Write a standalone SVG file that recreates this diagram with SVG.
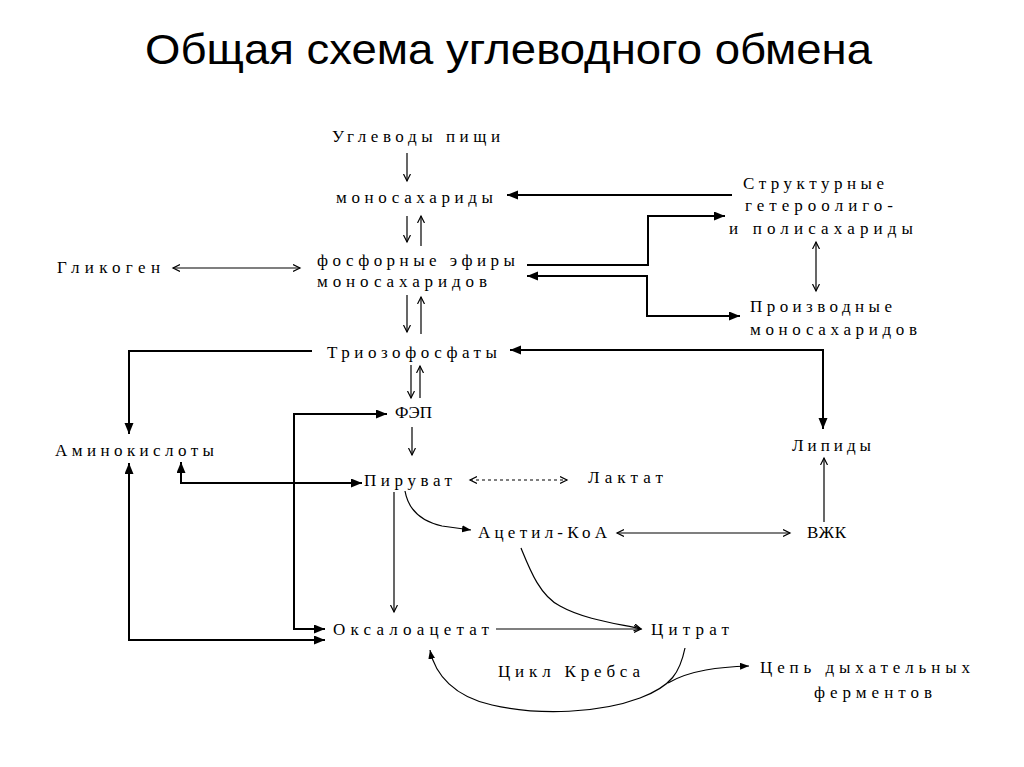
<svg xmlns="http://www.w3.org/2000/svg" width="1024" height="767" viewBox="0 0 1024 767">
<style>
.t{font-family:"Liberation Serif","DejaVu Serif",serif;font-size:17px;fill:#000}
.title{font-family:"Liberation Sans",Arial,sans-serif;font-size:42px;fill:#000}
.thin{fill:none;stroke:#000;stroke-width:1.2}
.thick{fill:none;stroke:#000;stroke-width:2}
.dash{stroke-dasharray:3 3}
</style>
<defs>
<marker id="fa" markerUnits="userSpaceOnUse" markerWidth="12" markerHeight="10" refX="11" refY="4.5" orient="auto-start-reverse"><path d="M0,0 L11,4.5 L0,9 z" fill="#000"/></marker>
<marker id="fs" markerUnits="userSpaceOnUse" markerWidth="10" markerHeight="8" refX="9" refY="3.5" orient="auto-start-reverse"><path d="M0,0 L9,3.5 L0,7 z" fill="#000"/></marker>
<marker id="oa" markerUnits="userSpaceOnUse" markerWidth="9" markerHeight="9" refX="7" refY="4" orient="auto-start-reverse"><path d="M0,0.5 L7,4 L0,7.5" fill="none" stroke="#000" stroke-width="1.2"/></marker>
</defs>
<rect width="1024" height="767" fill="#fff"/>
<text class="title" x="145" y="64" textLength="727" lengthAdjust="spacingAndGlyphs">Общая схема углеводного обмена</text>
<g id="connectors">
<path class="thin" d="M407,153 V181" marker-end="url(#oa)"/>
<path class="thin" d="M407,216 V242" marker-end="url(#oa)"/>
<path class="thin" d="M421,246 V216" marker-end="url(#oa)"/>
<path class="thin" d="M407,295 V332" marker-end="url(#oa)"/>
<path class="thin" d="M421,334 V297" marker-end="url(#oa)"/>
<path class="thin" d="M411,365 V398" marker-end="url(#oa)"/>
<path class="thin" d="M420,398 V366" marker-end="url(#oa)"/>
<path class="thin" d="M412,427 V455" marker-end="url(#oa)"/>
<path class="thin" d="M173,268 H300" marker-start="url(#oa)" marker-end="url(#oa)"/>
<path class="thin" d="M816,242 V291" marker-start="url(#oa)" marker-end="url(#oa)"/>
<path class="thin" d="M824,522 V458" marker-end="url(#oa)"/>
<path class="thin" d="M617,533 H790" marker-start="url(#oa)" marker-end="url(#oa)"/>
<path class="thin dash" d="M470,480 H567" marker-start="url(#oa)" marker-end="url(#oa)"/>
<path class="thin" d="M394,492 V612" marker-end="url(#oa)"/>
<path class="thin" d="M496,629 H641" marker-end="url(#oa)"/>
<path class="thin" d="M521,548 C530,570 540,596 560,606 C585,620 620,624 641,629" marker-end="url(#oa)"/>
<path class="thin" d="M685,648 C680,672 672,686 640,698 C600,713 540,716 492,705 C455,697 435,675 430,650" marker-end="url(#fs)"/>
<path class="thin" d="M668,683 C690,670 720,667 749,666" marker-end="url(#fs)"/>
<path class="thin" d="M405,491 C408,508 420,521 442,526 L471,530" marker-end="url(#fs)"/>
<path class="thick" d="M732,195 H507" marker-end="url(#fa)"/>
<path class="thick" d="M527,265 H648 V216 H725" marker-end="url(#fa)"/>
<path class="thick" d="M527,276 H647 V316 H740" marker-start="url(#fa)" marker-end="url(#fa)"/>
<path class="thick" d="M510,350 H823 V429" marker-start="url(#fa)" marker-end="url(#fa)"/>
<path class="thick" d="M312,351 H129 V434" marker-end="url(#fa)"/>
<path class="thick" d="M181,462 V483 H362" marker-start="url(#fa)" marker-end="url(#fa)"/>
<path class="thick" d="M387,414 H294 V629 H325" marker-start="url(#fa)" marker-end="url(#fa)"/>
<path class="thick" d="M129,463 V640 H325" marker-start="url(#fa)" marker-end="url(#fa)"/>
</g>
<g id="n-uglevody"><text class="t" x="332" y="142" textLength="168" lengthAdjust="spacing">Углеводы пищи</text></g>
<g id="n-monosaharidy"><text class="t" x="336" y="203" textLength="157" lengthAdjust="spacing">моносахариды</text></g>
<g id="n-fosfornye"><text class="t" x="317" y="266" textLength="198" lengthAdjust="spacing">фосфорные эфиры</text><text class="t" x="317" y="287" textLength="170" lengthAdjust="spacing">моносахаридов</text></g>
<g id="n-glikogen"><text class="t" x="57" y="273" textLength="103" lengthAdjust="spacing">Гликоген</text></g>
<g id="n-strukturnye"><text class="t" x="743" y="189" textLength="141" lengthAdjust="spacing">Структурные</text><text class="t" x="745" y="211" textLength="148" lengthAdjust="spacing">гетероолиго-</text><text class="t" x="729" y="234" textLength="184" lengthAdjust="spacing">и полисахариды</text></g>
<g id="n-proizvodnye"><text class="t" x="750" y="312" textLength="142" lengthAdjust="spacing">Производные</text><text class="t" x="750" y="335" textLength="167" lengthAdjust="spacing">моносахаридов</text></g>
<g id="n-triozo"><text class="t" x="327" y="358" textLength="170" lengthAdjust="spacing">Триозофосфаты</text></g>
<g id="n-fep"><text class="t" x="395" y="418" textLength="37" lengthAdjust="spacing">ФЭП</text></g>
<g id="n-amino"><text class="t" x="55" y="456" textLength="159" lengthAdjust="spacing">Аминокислоты</text></g>
<g id="n-lipidy"><text class="t" x="792" y="451" textLength="79" lengthAdjust="spacing">Липиды</text></g>
<g id="n-piruvat"><text class="t" x="364" y="486" textLength="88" lengthAdjust="spacing">Пируват</text></g>
<g id="n-laktat"><text class="t" x="588" y="483" textLength="75" lengthAdjust="spacing">Лактат</text></g>
<g id="n-acetil"><text class="t" x="478" y="538" textLength="129" lengthAdjust="spacing">Ацетил-КоА</text></g>
<g id="n-vzhk"><text class="t" x="807" y="538" textLength="39" lengthAdjust="spacing">ВЖК</text></g>
<g id="n-oksalo"><text class="t" x="333" y="635" textLength="156" lengthAdjust="spacing">Оксалоацетат</text></g>
<g id="n-citrat"><text class="t" x="651" y="635" textLength="78" lengthAdjust="spacing">Цитрат</text></g>
<g id="n-krebs"><text class="t" x="498" y="677" textLength="142" lengthAdjust="spacing">Цикл Кребса</text></g>
<g id="n-cep"><text class="t" x="760" y="673" textLength="210" lengthAdjust="spacing">Цепь дыхательных</text><text class="t" x="814" y="698" textLength="118" lengthAdjust="spacing">ферментов</text></g>
</svg>
